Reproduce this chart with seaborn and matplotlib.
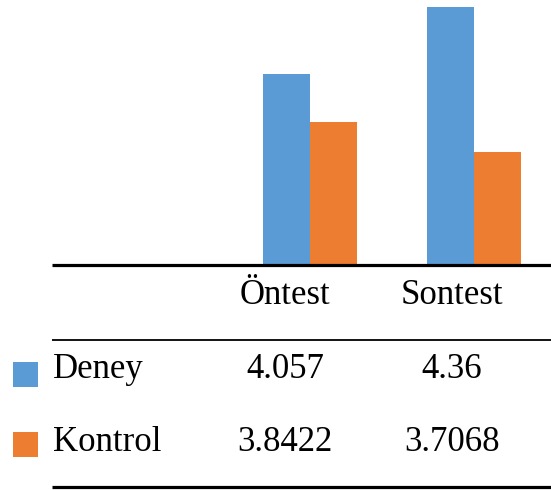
import matplotlib
matplotlib.use("Agg")
import matplotlib.pyplot as plt
from matplotlib.lines import Line2D
from matplotlib.patches import Rectangle
import pandas as pd
import seaborn as sns

# Data
tests = ["Öntest", "Sontest"]
groups = ["Deney", "Kontrol"]
deney = [4.057, 4.36]
kontrol = [3.8422, 3.7068]
colors = ["#5B9BD5", "#ED7D31"]

sns.set_style("white")
plt.rcParams["font.family"] = ["Liberation Serif", "DejaVu Serif"]
plt.rcParams["text.color"] = "black"

W, H = 551, 490
fig = plt.figure(figsize=(W / 100, H / 100), dpi=100)


def fx(px):
    return px / W


def fy(py):
    return 1 - py / H


# Plot area: from the table's left edge to the right edge, down to the baseline
left_px, right_px, top_px, base_px = 52, 551, 0, 265
ax = fig.add_axes([fx(left_px), fy(base_px), fx(right_px - left_px), (base_px - top_px) / H])

df = pd.DataFrame({
    "test": tests * 2,
    "group": [groups[0]] * len(tests) + [groups[1]] * len(tests),
    "value": deney + kontrol,
})

sns.barplot(data=df, x="test", y="value", hue="group", order=tests, hue_order=groups,
            palette=colors, saturation=1, width=0.573, linewidth=0, legend=False, ax=ax)

# Category spacing of 164 px; first category centred at x=310 px
unit = 164.0
ax.set_xlim(-(310 - left_px) / unit, 1 + (right_px - 474) / unit)
ax.set_ylim(3.2, 4.39)
ax.set_axis_off()

# Table rules
for y_px, lw in [(265, 2.3), (340, 1.3), (487, 2.3)]:
    fig.add_artist(Line2D([fx(52), fx(551)], [fy(y_px), fy(y_px)],
                          transform=fig.transFigure, color="black", linewidth=lw,
                          solid_capstyle="butt"))

fs = 25
col_x = [285, 452]

# Header row
for x_px, name in zip(col_x, tests):
    fig.text(fx(x_px), fy(304), name, ha="center", va="baseline", fontsize=fs, color="black")

# Data rows with legend keys
rows = [(groups[0], deney, colors[0], 378, 362),
        (groups[1], kontrol, colors[1], 451, 432)]
for name, vals, col, base_y, key_top in rows:
    fig.add_artist(Rectangle((fx(13), fy(key_top + 25)), 25 / W, 25 / H,
                             transform=fig.transFigure, facecolor=col, edgecolor="none"))
    fig.text(fx(53), fy(base_y), name, ha="left", va="baseline", fontsize=fs, color="black")
    for x_px, v in zip(col_x, vals):
        fig.text(fx(x_px), fy(base_y), f"{v:g}", ha="center", va="baseline",
                 fontsize=fs, color="black")

fig.savefig("out.png", dpi=100)
